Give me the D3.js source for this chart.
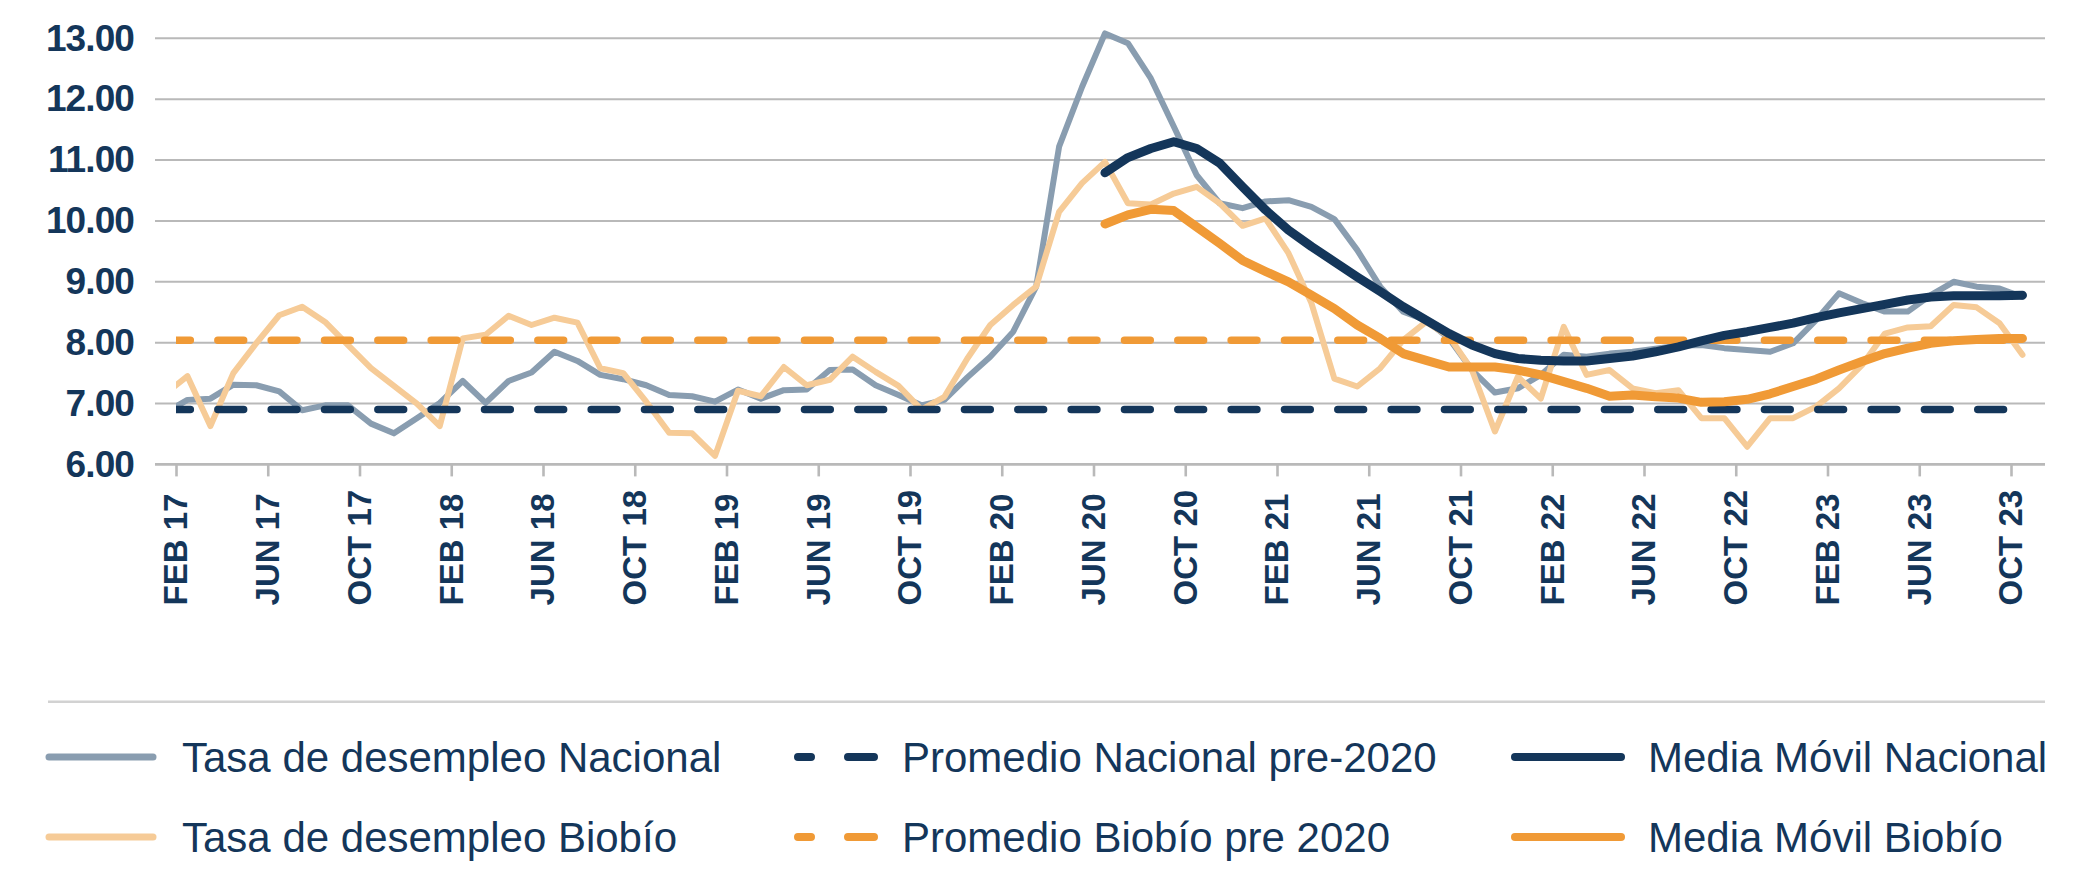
<!DOCTYPE html>
<html>
<head>
<meta charset="utf-8">
<script src="https://cdn.jsdelivr.net/npm/d3@7"></script>
<style>
  html, body { margin: 0; padding: 0; background: #ffffff; }
  svg { display: block; }
</style>
</head>
<body>
<svg id="chart" width="2085" height="879"></svg>
<script>
// ---------------- DATA ----------------
// Monthly points: first value = JAN 17, last value = OCT 23 (82 points)
const firstMonthIndex = -1; // month index of first value, FEB 17 = 0
const tickLabels = ["FEB 17","JUN 17","OCT 17","FEB 18","JUN 18","OCT 18","FEB 19","JUN 19","OCT 19",
  "FEB 20","JUN 20","OCT 20","FEB 21","JUN 21","OCT 21","FEB 22","JUN 22","OCT 22","FEB 23","JUN 23","OCT 23"];
const yTicks = [6, 7, 8, 9, 10, 11, 12, 13];

const tasaNacional = [6.84,
  7.06, 7.08, 7.31, 7.30, 7.20, 6.89, 6.97, 6.97, 6.67, 6.51, 6.76, 7.01,
  7.37, 7.01, 7.37, 7.51, 7.85, 7.70, 7.47, 7.40, 7.30, 7.14, 7.12, 7.03,
  7.23, 7.08, 7.22, 7.23, 7.55, 7.56, 7.30, 7.14, 6.97, 7.06, 7.43, 7.77,
  8.18, 8.92, 11.22, 12.20, 13.08, 12.92, 12.34, 11.55, 10.75, 10.29, 10.21, 10.32,
  10.34, 10.23, 10.03, 9.52, 8.92, 8.51, 8.37, 8.07, 7.55, 7.18, 7.25, 7.47,
  7.80, 7.77, 7.82, 7.85, 7.90, 7.95, 7.96, 7.91, 7.88, 7.85, 7.99, 8.37,
  8.81, 8.65, 8.51, 8.51, 8.78, 9.00, 8.92, 8.89, 8.75];

const tasaBiobio = [7.15,
  7.45, 6.63, 7.50, 7.99, 8.45, 8.59, 8.34, 7.96, 7.58, 7.29, 7.00, 6.63,
  8.07, 8.13, 8.44, 8.29, 8.41, 8.33, 7.58, 7.50, 7.03, 6.52, 6.51, 6.14,
  7.21, 7.12, 7.60, 7.30, 7.39, 7.77, 7.52, 7.29, 6.90, 7.11, 7.74, 8.29,
  8.62, 8.92, 10.15, 10.62, 10.97, 10.29, 10.27, 10.45, 10.56, 10.29, 9.92, 10.04,
  9.47, 8.65, 7.41, 7.28, 7.58, 8.04, 8.34, 8.10, 7.55, 6.54, 7.44, 7.08,
  8.26, 7.47, 7.55, 7.25, 7.17, 7.22, 6.76, 6.76, 6.29, 6.76, 6.76, 6.95,
  7.25, 7.63, 8.15, 8.25, 8.27, 8.62, 8.58, 8.32, 7.80];

// Moving averages start at JUN 20 (month index 40)
const mediaMovilStartIndex = 40;
const mediaMovilNacional = [10.79, 11.04, 11.19, 11.30, 11.19, 10.95, 10.56, 10.18, 9.85, 9.58,
  9.33, 9.08, 8.84, 8.59, 8.37, 8.15, 7.96, 7.82, 7.74, 7.71,
  7.70, 7.70, 7.74, 7.78, 7.85, 7.93, 8.03, 8.12, 8.18, 8.25,
  8.32, 8.41, 8.49, 8.56, 8.63, 8.70, 8.75, 8.77, 8.77, 8.77, 8.78];
const mediaMovilBiobio = [9.95, 10.10, 10.19, 10.17, 9.90, 9.63, 9.35, 9.17, 9.00, 8.78,
  8.56, 8.29, 8.07, 7.82, 7.71, 7.60, 7.60, 7.60, 7.55, 7.47,
  7.36, 7.25, 7.12, 7.14, 7.11, 7.09, 7.02, 7.03, 7.07, 7.16,
  7.28, 7.40, 7.55, 7.69, 7.82, 7.91, 7.99, 8.03, 8.05, 8.07, 8.07];

const promedioNacionalPre2020 = 6.90;
const promedioBiobioPre2020 = 8.04;

const legendRow1 = ["Tasa de desempleo Nacional", "Promedio Nacional pre-2020", "Media Móvil Nacional"];
const legendRow2 = ["Tasa de desempleo Biobío", "Promedio Biobío pre 2020", "Media Móvil Biobío"];

// ---------------- STYLE ----------------
const C = {
  navy: "#14365a",
  grey: "#899db0",
  lightOrange: "#f6cb97",
  orange: "#f09a36",
  grid: "#b9b9b9",
  sep: "#d2d2d2"
};
const FONT = "'Liberation Sans', Arial, Helvetica, sans-serif";
const pointOffset = 0.5; // points sit half a month after their tick

// ---------------- SCALES ----------------
const svg = d3.select("#chart");
const x = d3.scaleLinear().domain([0, 80]).range([176, 2011]);
const y = d3.scaleLinear().domain([6, 13]).range([464.4, 38.3]);
const gridX0 = 155, gridX1 = 2045;

// ---------------- GRID ----------------
svg.append("g").selectAll("line").data(yTicks).join("line")
  .attr("x1", gridX0).attr("x2", gridX1)
  .attr("y1", d => y(d)).attr("y2", d => y(d))
  .attr("stroke", C.grid).attr("stroke-width", d => d === 6 ? 2.6 : 2);

// y labels
svg.append("g").selectAll("text").data(yTicks).join("text")
  .attr("x", 134).attr("y", d => y(d))
  .attr("dy", "0.33em")
  .attr("text-anchor", "end")
  .attr("font-family", FONT).attr("font-weight", "bold")
  .attr("font-size", 37).attr("letter-spacing", "-0.9px")
  .attr("fill", C.navy)
  .text(d => d3.format(".2f")(d));

// x axis ticks + labels
const tickIdx = tickLabels.map((_, i) => i * 4);
const xAxis = d3.axisBottom(x).tickValues(tickIdx).tickSize(12).tickFormat((d, i) => tickLabels[i]);
const gx = svg.append("g").attr("transform", `translate(0,${y(6)})`).call(xAxis);
gx.select(".domain").remove();
gx.selectAll(".tick line").attr("stroke", C.grid).attr("stroke-width", 2.6);
gx.selectAll(".tick text")
  .attr("font-family", FONT).attr("font-weight", "bold").attr("font-size", 33)
  .attr("fill", C.navy)
  .attr("text-anchor", "start")
  .attr("x", 0).attr("y", 0).attr("dy", "0.36em")
  .attr("transform", "translate(-1,141) rotate(-90)");

// ---------------- LINES ----------------
const defs = svg.append("defs");
defs.append("clipPath").attr("id", "plotClip").append("rect")
  .attr("x", x(0)).attr("y", 0).attr("width", 2085 - x(0)).attr("height", 879);

const plot = svg.append("g").attr("clip-path", "url(#plotClip)");

const seriesPoints = (vals, start) => vals.map((v, k) => ({ m: start + k, v }));
const line = d3.line().x(d => x(d.m + pointOffset)).y(d => y(d.v));

const nacPts = seriesPoints(tasaNacional, firstMonthIndex);
const bioPts = seriesPoints(tasaBiobio, firstMonthIndex);

function drawLine(pts, color, width, dash) {
  const p = plot.append("path").datum(pts)
    .attr("d", line)
    .attr("fill", "none")
    .attr("stroke", color)
    .attr("stroke-width", width)
    .attr("stroke-linejoin", "round")
    .attr("stroke-linecap", "round");
  if (dash) p.attr("stroke-dasharray", dash);
  return p;
}

drawLine(nacPts, C.grey, 6);
drawLine(bioPts, C.lightOrange, 6);
drawLine(nacPts.map(d => ({ m: d.m, v: promedioNacionalPre2020 })), C.navy, 7.5, "25.8,27.53");
drawLine(bioPts.map(d => ({ m: d.m, v: promedioBiobioPre2020 })), C.orange, 7.5, "25.8,27.53");
drawLine(seriesPoints(mediaMovilNacional, mediaMovilStartIndex), C.navy, 9);
drawLine(seriesPoints(mediaMovilBiobio, mediaMovilStartIndex), C.orange, 9);

// ---------------- LEGEND ----------------
svg.append("line")
  .attr("x1", 48).attr("x2", 2045).attr("y1", 701.7).attr("y2", 701.7)
  .attr("stroke", C.sep).attr("stroke-width", 2.6);

const legendItems = [
  { label: legendRow1[0], color: C.grey, w: 7, dash: null, col: 0, row: 0 },
  { label: legendRow1[1], color: C.navy, w: 8, dash: "13,37,40", col: 1, row: 0 },
  { label: legendRow1[2], color: C.navy, w: 8, dash: null, col: 2, row: 0 },
  { label: legendRow2[0], color: C.lightOrange, w: 7, dash: null, col: 0, row: 1 },
  { label: legendRow2[1], color: C.orange, w: 8, dash: "13,37,40", col: 1, row: 1 },
  { label: legendRow2[2], color: C.orange, w: 8, dash: null, col: 2, row: 1 }
];
const colLine = [[49, 153], [798, 874], [1515, 1621]];
const colText = [182, 902, 1648];
const rowY = [757, 837];

const lg = svg.append("g");
legendItems.forEach(it => {
  const l = lg.append("line")
    .attr("x1", colLine[it.col][0]).attr("x2", colLine[it.col][1])
    .attr("y1", rowY[it.row]).attr("y2", rowY[it.row])
    .attr("stroke", it.color).attr("stroke-width", it.w)
    .attr("stroke-linecap", "round");
  if (it.dash) l.attr("stroke-dasharray", it.dash);
  lg.append("text")
    .attr("x", colText[it.col]).attr("y", rowY[it.row] + 14.5)
    .attr("font-family", FONT).attr("font-size", 42)
    .attr("fill", C.navy)
    .text(it.label);
});
</script>
</body>
</html>
